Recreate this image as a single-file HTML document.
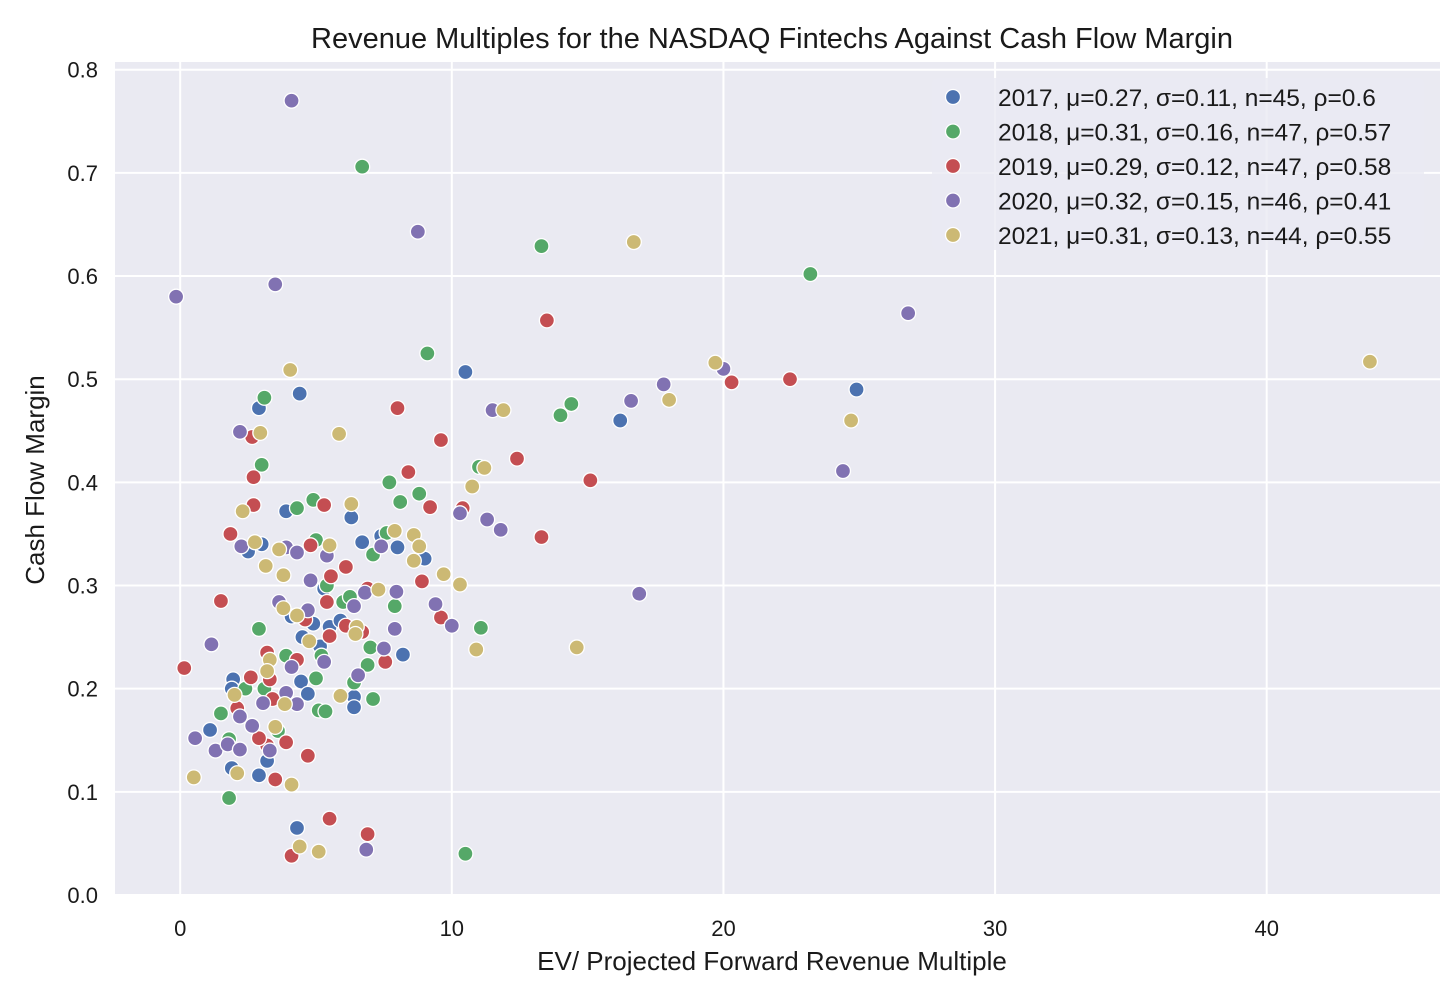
<!DOCTYPE html>
<html><head><meta charset="utf-8">
<style>
body{margin:0;background:#fff;font-family:"Liberation Sans","DejaVu Sans",sans-serif;}
svg text{font-family:"Liberation Sans","DejaVu Sans",sans-serif;fill:#1a1a1a;}
</style></head>
<body>
<svg id="chart" width="1456" height="1001" viewBox="0 0 1456 1001" xmlns="http://www.w3.org/2000/svg">
<rect x="0" y="0" width="1456" height="1001" fill="#fff"/>
<rect x="115" y="62" width="1325" height="833" fill="#EAEAF2"/>
<g id="grid"></g>
<g id="ticks"></g>
<g id="points"></g>
<g id="legend"></g>
<text x="772" y="48" font-size="29" text-anchor="middle">Revenue Multiples for the NASDAQ Fintechs Against Cash Flow Margin</text>
<text x="772" y="970" font-size="26" text-anchor="middle">EV/ Projected Forward Revenue Multiple</text>
<text x="44" y="480" font-size="26" text-anchor="middle" transform="rotate(-90 44 480)">Cash Flow Margin</text>
</svg>
<script>
const xTicks=[0,10,20,30,40];
const yTicks=[0.0,0.1,0.2,0.3,0.4,0.5,0.6,0.7,0.8];
const yTickLabels=["0.0","0.1","0.2","0.3","0.4","0.5","0.6","0.7","0.8"];
const seriesNames=["2017, μ=0.27, σ=0.11, n=45, ρ=0.6","2018, μ=0.31, σ=0.16, n=47, ρ=0.57","2019, μ=0.29, σ=0.12, n=47, ρ=0.58","2020, μ=0.32, σ=0.15, n=46, ρ=0.41","2021, μ=0.31, σ=0.13, n=44, ρ=0.55"];
const colors=["#4C72B0","#55A868","#C44E52","#8172B2","#CCB974"];
const x2017=[10.5,24.9,16.2,2.9,4.4,3.0,2.5,3.9,6.3,6.7,7.4,8.0,9.0,5.3,4.9,5.5,4.5,4.1,8.2,4.45,4.7,6.4,6.4,1.95,1.1,1.9,2.9,3.2,4.3,1.9,5.15,5.9];
const y2017=[0.507,0.49,0.46,0.472,0.486,0.34,0.333,0.372,0.366,0.342,0.348,0.337,0.326,0.297,0.263,0.26,0.25,0.27,0.233,0.207,0.195,0.192,0.182,0.209,0.16,0.123,0.116,0.13,0.065,0.2,0.241,0.266];
const x2018=[6.7,13.3,23.2,9.1,14.4,14.0,11.0,3.1,3.0,7.7,8.8,4.9,4.3,8.1,5.0,7.1,7.6,5.4,6.0,7.9,6.25,2.9,11.07,3.9,5.2,7.0,6.9,6.4,5.0,3.1,7.1,5.1,5.35,1.5,2.4,3.6,1.8,10.5,1.8];
const y2018=[0.706,0.629,0.602,0.525,0.476,0.465,0.415,0.482,0.417,0.4,0.389,0.383,0.375,0.381,0.344,0.33,0.351,0.3,0.284,0.28,0.289,0.258,0.259,0.232,0.232,0.24,0.223,0.206,0.21,0.2,0.19,0.179,0.178,0.176,0.2,0.159,0.094,0.04,0.151];
const x2019=[13.5,20.3,22.45,8.0,9.6,2.65,12.4,8.4,15.1,2.7,2.7,9.2,10.4,5.3,1.85,13.3,4.8,6.1,5.55,8.9,6.9,1.5,5.4,9.6,6.1,4.6,6.7,5.5,3.2,3.3,4.3,2.6,2.1,7.55,3.4,0.15,3.9,3.2,4.7,3.5,5.5,6.9,4.1,2.9];
const y2019=[0.557,0.497,0.5,0.472,0.441,0.444,0.423,0.41,0.402,0.405,0.378,0.376,0.375,0.378,0.35,0.347,0.339,0.318,0.309,0.304,0.297,0.285,0.284,0.269,0.261,0.267,0.255,0.251,0.235,0.209,0.228,0.211,0.181,0.226,0.19,0.22,0.148,0.145,0.135,0.112,0.074,0.059,0.038,0.152];
const x2020=[4.1,8.75,3.5,-0.15,26.8,20.0,17.8,16.6,11.5,24.4,2.2,10.3,11.3,11.8,2.25,3.9,4.3,7.4,5.4,6.8,7.96,4.8,3.64,6.4,9.4,16.9,4.7,10.0,7.9,1.15,7.5,4.1,5.3,6.55,3.9,3.05,4.3,2.2,2.65,0.55,1.3,1.75,2.2,3.3,6.85];
const y2020=[0.77,0.643,0.592,0.58,0.564,0.51,0.495,0.479,0.47,0.411,0.449,0.37,0.364,0.354,0.338,0.337,0.332,0.338,0.329,0.293,0.294,0.305,0.284,0.28,0.282,0.292,0.276,0.261,0.258,0.243,0.239,0.221,0.226,0.213,0.196,0.186,0.185,0.173,0.164,0.152,0.14,0.146,0.141,0.14,0.044];
const x2021=[16.7,43.8,19.7,18.0,24.7,11.9,4.05,5.85,2.95,11.2,10.75,2.3,6.3,7.9,8.6,8.8,2.75,3.64,5.5,8.6,3.15,3.8,9.7,7.3,10.3,3.8,4.3,4.75,6.5,6.45,10.9,14.6,3.3,3.2,2.0,5.9,3.85,3.5,2.1,0.5,4.1,4.4,5.1];
const y2021=[0.633,0.517,0.516,0.48,0.46,0.47,0.509,0.447,0.448,0.414,0.396,0.372,0.379,0.353,0.349,0.338,0.342,0.335,0.339,0.324,0.319,0.31,0.311,0.296,0.301,0.278,0.271,0.246,0.26,0.253,0.238,0.24,0.228,0.217,0.194,0.193,0.185,0.163,0.118,0.114,0.107,0.047,0.042];
const seriesX=[x2017,x2018,x2019,x2020,x2021];
const seriesY=[y2017,y2018,y2019,y2020,y2021];

const NS="http://www.w3.org/2000/svg";
const L=115,R=1440,T=62,B=895;
const xMin=-2.4,xMax=46.38,yMin=0,yMax=0.8075;
function sx(v){return L+(v-xMin)/(xMax-xMin)*(R-L);}
function sy(v){return B-(v-yMin)/(yMax-yMin)*(B-T);}
function mk(tag,attrs,parent){const e=document.createElementNS(NS,tag);for(const k in attrs)e.setAttribute(k,attrs[k]);parent.appendChild(e);return e;}
const grid=document.getElementById('grid'),ticks=document.getElementById('ticks'),pts=document.getElementById('points'),leg=document.getElementById('legend');
xTicks.forEach(v=>{
  const l=mk('line',{x1:sx(v),x2:sx(v),y1:T,y2:B,stroke:'#fff','stroke-width':2},grid);
  
  
  const t=mk('text',{x:sx(v),y:936,'font-size':22,'text-anchor':'middle'},ticks);
  t.textContent=String(v);
  
  
});
yTicks.forEach((v,i)=>{
  const l=mk('line',{x1:L,x2:R,y1:sy(v),y2:sy(v),stroke:'#fff','stroke-width':2},grid);
  
  
  const t=mk('text',{x:98,y:sy(v)+8,'font-size':22,'text-anchor':'end'},ticks);
  t.textContent=yTickLabels[i];
  
  
});
seriesX.forEach((xs,s)=>{
  xs.forEach((xv,i)=>{
    const c=mk('circle',{cx:sx(xv),cy:sy(seriesY[s][i]),r:7.5,fill:colors[s],stroke:'#fff','stroke-width':1.3},pts);
    
    
  });
});
const box=mk('rect',{x:932,y:78,width:492,height:172,rx:5,fill:'#EAEAF2','fill-opacity':0.8},leg);


seriesNames.forEach((n,i)=>{
  const y=97+i*34.5;
  const c=mk('circle',{cx:953,cy:y,r:7.5,fill:colors[i],stroke:'#fff','stroke-width':1.3},leg);
  
  
  const t=mk('text',{x:998,y:y+9,'font-size':24.5},leg);
  t.textContent=n;
  
  
});
</script>
</body></html>
